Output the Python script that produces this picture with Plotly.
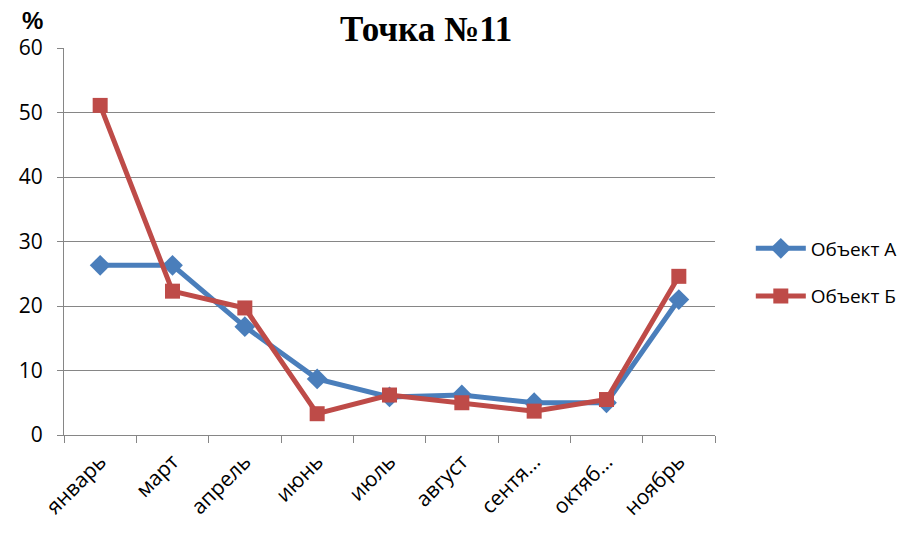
import plotly.graph_objects as go

months = ["январь", "март", "апрель", "июнь", "июль", "август", "сентя…", "октяб…", "ноябрь"]
object_a = [26.3, 26.3, 16.8, 8.7, 5.9, 6.2, 5.0, 5.0, 21.0]
object_b = [51.1, 22.3, 19.7, 3.3, 6.2, 5.0, 3.7, 5.5, 24.6]
y_ticks = [0, 10, 20, 30, 40, 50, 60]

blue = "#4A7EBB"
red = "#BE4B48"
grid = "#868686"

fig = go.Figure()
fig.add_trace(go.Scatter(
    x=months, y=object_a, name="Объект А", mode="lines+markers",
    legendgroup="a",
    line=dict(color=blue, width=5),
    marker=dict(symbol="diamond", size=16, color=blue),
))
fig.add_trace(go.Scatter(
    x=months, y=object_b, name="Объект Б", mode="lines+markers",
    legendgroup="b",
    line=dict(color=red, width=5),
    marker=dict(symbol="square", size=15, color=red),
))

fig.update_layout(
    width=921, height=543,
    margin=dict(l=64, r=206, t=48, b=108),
    paper_bgcolor="white", plot_bgcolor="white",
    font=dict(family="Open Sans, Noto Sans, sans-serif", color="#000000"),
    showlegend=True,
    legend=dict(
        x=1.055, y=0.42, xanchor="left", yanchor="middle",
        font=dict(size=19, color="#000000"),
        itemwidth=50, tracegroupgap=20,
        bgcolor="rgba(0,0,0,0)",
    ),
    xaxis=dict(
        type="category", range=[-0.5, 8.5],
        tickson="boundaries", ticks="outside", ticklen=7, tickcolor=grid,
        tickangle=-45, tickfont=dict(size=21), ticklabelstandoff=5,
        showline=True, linecolor=grid, linewidth=1.3,
        showgrid=False, zeroline=False,
    ),
    yaxis=dict(
        range=[0, 60], tickvals=y_ticks, ticks="outside", ticklen=6,
        tickcolor=grid, tickfont=dict(size=21), ticklabelstandoff=10,
        showline=True, linecolor=grid, linewidth=1.3,
        showgrid=True, gridcolor=grid, gridwidth=1.2, zeroline=False,
    ),
    annotations=[
        dict(text="<b>Точка №11</b>", xref="paper", yref="paper",
             x=0.556, y=1.0, yshift=19, xanchor="center", yanchor="middle",
             showarrow=False,
             font=dict(family="Liberation Serif, Times New Roman, serif", size=35)),
        dict(text="<b>%</b>", xref="paper", yref="paper",
             x=0, xshift=-32, y=1.0, yshift=28, xanchor="center", yanchor="middle",
             showarrow=False,
             font=dict(family="Liberation Sans, Arial, sans-serif", size=24)),
    ],
)

fig.write_html("out.html")
